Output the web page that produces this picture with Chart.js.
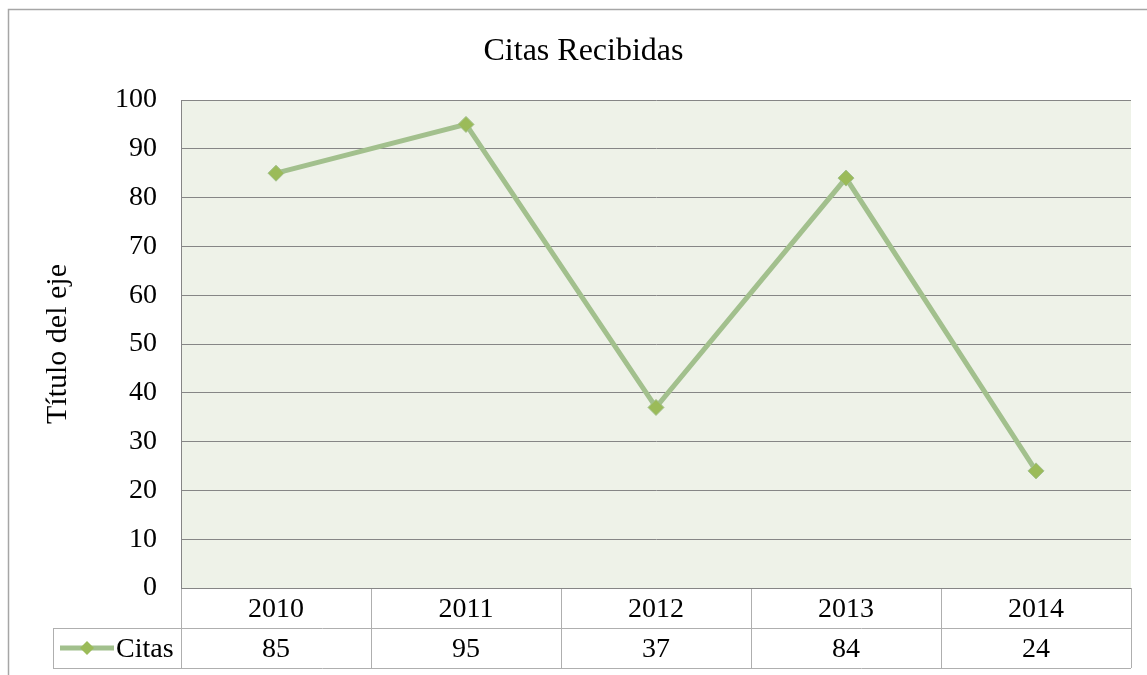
<!DOCTYPE html>
<html>
<head>
<meta charset="utf-8">
<script src="https://cdn.jsdelivr.net/npm/chart.js@4/dist/chart.umd.min.js"></script>
<style>
  html, body { margin: 0; padding: 0; background: #fff; }
  #wrap { width: 1147px; height: 675px; }
</style>
</head>
<body>
<div id="wrap"><canvas id="chart" width="1147" height="675"></canvas></div>
<script>
// ======= Data =======
const years = ['2010', '2011', '2012', '2013', '2014'];
const citas = [85, 95, 37, 84, 24];
const seriesName = 'Citas';
const chartTitle = 'Citas Recibidas';
const axisTitle = 'Título del eje';

const FONT = "'Liberation Serif', 'Times New Roman', serif";
const LINE_COLOR = '#A2C08D';
const MARKER_COLOR = '#9BBB59';
const GRID_COLOR = '#868686';
const TABLE_COLOR = '#AFAFAF';

// ======= Plot background, outer border and chart title =======
const backgroundPlugin = {
    id: 'plotBackground',
    beforeDraw(chart) {
        const { ctx, chartArea: a } = chart;
        ctx.save();
        ctx.fillStyle = '#EEF2E8';
        ctx.fillRect(a.left, a.top, a.right - a.left, a.bottom - a.top);
        // chart border (right and bottom fall outside the picture)
        ctx.strokeStyle = '#A6A6A6';
        ctx.lineWidth = 1.5;
        ctx.strokeRect(8.5, 9.5, 1200, 700);
        // title is centred on the whole chart object, not the plot
        ctx.fillStyle = '#000';
        ctx.font = `32px ${FONT}`;
        ctx.textAlign = 'center';
        ctx.textBaseline = 'alphabetic';
        ctx.fillText(chartTitle, 583.5, 60);
        ctx.restore();
    }
};

// ======= Data table under the plot =======
const dataTablePlugin = {
    id: 'dataTable',
    afterDraw(chart) {
        const { ctx, chartArea: a } = chart;
        const xs = chart.scales.x;
        const rowH = 40;
        const y0 = a.bottom, y1 = y0 + rowH, y2 = y1 + rowH;
        const legendLeft = 53;
        const step = (a.right - a.left) / years.length;

        ctx.save();
        ctx.lineWidth = 1;
        ctx.strokeStyle = TABLE_COLOR;
        ctx.beginPath();
        // horizontal lines
        ctx.moveTo(legendLeft, y1 + 0.5); ctx.lineTo(a.right, y1 + 0.5);
        ctx.moveTo(legendLeft, y2 + 0.5); ctx.lineTo(a.right, y2 + 0.5);
        // vertical dividers
        for (let i = 0; i <= years.length; i++) {
            const x = Math.round(a.left + i * step) + 0.5;
            ctx.moveTo(x, y0); ctx.lineTo(x, y2);
        }
        ctx.moveTo(legendLeft + 0.5, y1); ctx.lineTo(legendLeft + 0.5, y2);
        ctx.stroke();

        // x axis line
        ctx.strokeStyle = GRID_COLOR;
        ctx.beginPath();
        ctx.moveTo(a.left, y0 + 0.5); ctx.lineTo(a.right, y0 + 0.5);
        ctx.stroke();

        // texts
        ctx.fillStyle = '#000';
        ctx.font = `28px ${FONT}`;
        ctx.textAlign = 'center';
        ctx.textBaseline = 'middle';
        years.forEach((yr, i) => {
            const x = xs.getPixelForValue(i);
            ctx.fillText(yr, x, y0 + rowH / 2 + 2);
            ctx.fillText(String(citas[i]), x, y1 + rowH / 2 + 2);
        });

        // legend key
        const ly = y1 + rowH / 2;
        ctx.strokeStyle = LINE_COLOR;
        ctx.lineWidth = 5;
        ctx.beginPath();
        ctx.moveTo(60, ly); ctx.lineTo(114, ly);
        ctx.stroke();
        ctx.fillStyle = MARKER_COLOR;
        ctx.beginPath();
        ctx.moveTo(87, ly - 7); ctx.lineTo(94, ly); ctx.lineTo(87, ly + 7); ctx.lineTo(80, ly);
        ctx.closePath();
        ctx.fill();
        ctx.fillStyle = '#000';
        ctx.textAlign = 'left';
        ctx.fillText(seriesName, 116, ly + 2);
        ctx.restore();
    }
};

// ======= Chart =======
new Chart(document.getElementById('chart'), {
    type: 'line',
    data: {
        labels: years,
        datasets: [{
            label: seriesName,
            data: citas,
            borderColor: LINE_COLOR,
            borderWidth: 5,
            pointStyle: 'rectRot',
            pointRadius: 8,
            pointBackgroundColor: MARKER_COLOR,
            pointBorderColor: LINE_COLOR,
            pointBorderWidth: 1,
            tension: 0
        }]
    },
    options: {
        responsive: false,
        animation: false,
        layout: { padding: { left: 9, right: 16, top: 100, bottom: 87 } },
        plugins: {
            legend: { display: false },
            tooltip: { enabled: false },
            title: { display: false }
        },
        scales: {
            x: {
                type: 'category',
                offset: true,
                display: false
            },
            y: {
                min: 0,
                max: 100,
                ticks: {
                    stepSize: 10,
                    color: '#000',
                    padding: 24,
                    font: { family: FONT, size: 28 }
                },
                grid: { color: GRID_COLOR, lineWidth: 1, drawTicks: false },
                border: { display: true, color: GRID_COLOR },
                title: {
                    display: true,
                    text: axisTitle,
                    color: '#000',
                    font: { family: FONT, size: 30 },
                    padding: { top: 31, bottom: 0 }
                },
                afterFit(scale) { scale.width = 172; }
            }
        }
    },
    plugins: [backgroundPlugin, dataTablePlugin]
});
</script>
</body>
</html>
